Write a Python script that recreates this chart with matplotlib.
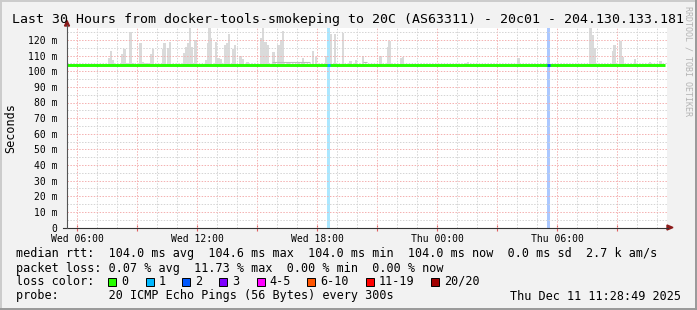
#!/usr/bin/env python3
"""SmokePing latency graph, last 30 hours (docker-tools-smokeping -> 20C)."""

import matplotlib
matplotlib.use("Agg")
import matplotlib.pyplot as plt
from matplotlib.patches import Rectangle, Polygon
from matplotlib.lines import Line2D

W, H = 697, 310
MONO = "DejaVu Sans Mono"

# --- data -------------------------------------------------------------
# x values are hours after the window start (Wed 05:30)
window_hours = 30.0
label_hours = [0.5, 6.5, 12.5, 18.5, 24.5]
tick_labels = ["Wed 06:00", "Wed 12:00", "Wed 18:00", "Thu 00:00", "Thu 06:00"]
y_ticks_ms = [0, 10, 20, 30, 40, 50, 60, 70, 80, 90, 100, 110, 120]

median_t = [0.0, 29.9]
median_ms = [104.0, 104.0]

# smoke: slowest ping per step (ms)
smoke_t = [2.125, 2.2, 2.275, 2.775, 2.875, 3.025, 3.175, 3.275, 3.675, 3.775,
           3.9, 4.0, 4.1, 4.2, 4.3, 4.8, 4.875, 5.05, 5.15, 5.85, 5.95, 6.05,
           6.15, 6.25, 6.425, 6.975, 7.05, 7.125, 7.2,
           7.45, 7.575, 7.675, 7.925, 8.025, 8.1, 8.3, 8.4, 8.675, 8.775,
           9.025, 9.7, 9.8, 9.925, 10.05, 10.325, 10.575, 10.7, 10.8, 11.075,
           11.575, 11.8, 12.3, 12.45, 12.95, 13.2, 13.4, 13.8, 14.175, 14.45,
           14.8, 15.675, 16.05, 16.125, 16.7, 16.8, 19.925, 20.05,
           22.575, 26.175, 26.275, 26.375, 27.3, 27.375, 27.675, 27.8, 28.4,
           29.15, 29.675]
smoke_top = [108.7, 113.0, 107.5, 111.0, 114.0, 105.5, 125.3, 105.5, 118.0, 106.0,
             105.5, 105.5, 105.5, 111.0, 114.0, 114.5, 118.0, 115.0, 118.5, 111.5,
             115.5, 118.0, 127.5, 115.5, 120.0, 107.0, 118.0, 127.5, 121.0,
             119.0, 108.7, 108.0, 117.0, 118.0, 124.0, 114.0, 116.5, 110.0, 108.0,
             106.0, 121.0, 127.8, 119.0, 116.5, 112.5, 116.5, 120.0, 125.7, 106.0,
             106.0, 108.3, 113.0, 109.0, 110.0, 123.6, 124.0, 124.7, 106.5, 107.0,
             110.0, 110.0, 115.5, 119.5, 108.3, 109.0, 105.0, 106.0,
             108.3, 127.5, 123.0, 115.0, 113.0, 117.0, 119.5, 109.0, 108.0,
             106.0, 106.5]

# darker smoke bands just above the median
dark_t0 = [10.25, 14.8]
dark_t1 = [12.15, 15.0]
dark_ms = [105.7, 106.0]

# packet loss events (hour, lost pings out of 20)
loss_t = [13.075, 24.075]
loss_pings = [1, 2]

loss_labels = ["0", "1", "2", "3", "4-5", "6-10", "11-19", "20/20"]
loss_colors = ["#26ff00", "#00b8ff", "#0059ff", "#7e00ff",
               "#ff00ff", "#ff5500", "#ff0000", "#a10000"]

rtt_avg, rtt_max, rtt_min, rtt_now, rtt_sd = 104.0, 104.6, 104.0, 104.0, 0.0
am_per_s = 2.7
loss_avg, loss_max, loss_min, loss_now = 0.07, 11.73, 0.00, 0.00


def fx(x):
    return x / W


def fy(y):
    return 1 - y / H


# --- figure -----------------------------------------------------------
fig = plt.figure(figsize=(W / 100, H / 100), dpi=100, facecolor="#f2f2f2")

ax = fig.add_axes([fx(67), fy(227.5), 600 / W, (227.5 - 28) / H])
ax.set_facecolor("white")
ax.set_xlim(0, window_hours)
ax.set_ylim(0, (227.5 - 28) / 1.5625)
for s in ax.spines.values():
    s.set_visible(False)

# smoke
ax.bar(smoke_t, [t - median_ms[0] for t in smoke_top], bottom=median_ms[0],
       width=0.12, color="#dadada", linewidth=0, zorder=1)
ax.hlines(dark_ms, dark_t0, dark_t1, color="#bcbcbc", lw=0.8, zorder=1)

# loss bars
for t, n in zip(loss_t, loss_pings):
    ax.axvspan(t - 0.075, t + 0.075, color=loss_colors[n], alpha=0.33,
               linewidth=0, zorder=1)

# grid: gray every hour / 5 ms, red every 3 h / 10 ms
grid_kw = dict(lw=0.7, linestyle=(0, (1.5, 1.5)), zorder=2)
for k in range(30):
    h = 0.5 + k
    ax.axvline(h, color="#f4b0b0" if k % 3 == 0 else "#d4d4d4", **grid_kw)
for v in range(5, 130, 5):
    ax.axhline(v, color="#f4b0b0" if v % 10 == 0 else "#d4d4d4", **grid_kw)

# median line, coloured by loss
ax.plot(median_t, median_ms, color=loss_colors[0], lw=2.1,
        solid_capstyle="butt", zorder=3)
for t, n in zip(loss_t, loss_pings):
    ax.plot([t - 0.075, t + 0.075], [median_ms[0]] * 2, color=loss_colors[n],
            lw=2.1, solid_capstyle="butt", zorder=4)

# ticks
ax.set_xticks([0.5 + 3 * k for k in range(10)])
ax.set_xticklabels([tick_labels[k // 2] if k % 2 == 0 else "" for k in range(10)],
                   fontsize=7, family=MONO)
ax.tick_params(axis="x", direction="inout", length=4, width=0.8,
               color="#e06060", pad=3)
ax.set_yticks(y_ticks_ms)
ax.set_yticklabels([f"{v} m" if v else "0" for v in y_ticks_ms],
                   fontsize=7, family=MONO)
ax.tick_params(axis="y", direction="in", length=0, pad=7)

# axes with arrow heads
fig.add_artist(Line2D([fx(63), fx(668)], [fy(227.5)] * 2, color="#333333", lw=0.8))
fig.add_artist(Line2D([fx(67)] * 2, [fy(227.5), fy(25)], color="#555555", lw=0.8))
fig.add_artist(Polygon([(fx(667), fy(225)), (fx(673), fy(227.5)), (fx(667), fy(230))],
                       closed=True, color="#8b1a1a", transform=fig.transFigure))
fig.add_artist(Polygon([(fx(64.5), fy(26)), (fx(67), fy(20.5)), (fx(69.5), fy(26))],
                       closed=True, color="#8b1a1a", transform=fig.transFigure))

# titles
fig.text(0.5, fy(19), "Last 30 Hours from docker-tools-smokeping to 20C (AS63311)"
         " - 20c01 - 204.130.133.181", ha="center", va="center",
         fontsize=9.5, family=MONO)
fig.text(fx(11), fy(128), "Seconds", rotation=90, ha="center", va="center",
         fontsize=8.5, family=MONO)
fig.text(fx(688), fy(61), "RRDTOOL / TOBI OETIKER", rotation=270, ha="center",
         va="center", fontsize=6, family=MONO, color="#b4b4b4")

# legend
row1 = (f"median rtt:  {rtt_avg:.1f} ms avg  {rtt_max:.1f} ms max  "
        f"{rtt_min:.1f} ms min  {rtt_now:.1f} ms now  {rtt_sd:.1f} ms sd  "
        f"{am_per_s:.1f} k am/s")
row2 = (f"packet loss: {loss_avg:.2f} % avg  {loss_max:.2f} % max  "
        f"{loss_min:.2f} % min  {loss_now:.2f} % now")
fig.text(fx(16), fy(254), row1, va="center", fontsize=8.5, family=MONO)
fig.text(fx(16), fy(268.3), row2, va="center", fontsize=8.5, family=MONO)
fig.text(fx(16), fy(281.5), "loss color:", va="center", fontsize=8.5, family=MONO)
box_x = [108.3, 145.7, 182.3, 219.3, 256.7, 307.0, 365.7, 430.7]
for bx, lab, col in zip(box_x, loss_labels, loss_colors):
    fig.add_artist(Rectangle((fx(bx), fy(285.5)), 8 / W, 8 / H, facecolor=col,
                             edgecolor="black", lw=0.7, transform=fig.transFigure))
    fig.text(fx(bx + 13), fy(281.5), lab, va="center", fontsize=8.5, family=MONO)
fig.text(fx(16), fy(296), "probe:       20 ICMP Echo Pings (56 Bytes) every 300s",
         va="center", fontsize=8.5, family=MONO)
fig.text(fx(681), fy(296), "Thu Dec 11 11:28:49 2025", ha="right", va="center",
         fontsize=8.5, family=MONO)

# rrdtool frame shading
fig.add_artist(Line2D([0, 1], [fy(1)] * 2, color="#cbcbcb", lw=1.4))
fig.add_artist(Line2D([fx(1)] * 2, [0, 1], color="#cbcbcb", lw=1.4))
fig.add_artist(Line2D([0, 1], [fy(309)] * 2, color="#999999", lw=1.4))
fig.add_artist(Line2D([fx(696)] * 2, [0, 1], color="#999999", lw=1.4))

fig.savefig("out.png", dpi=100, facecolor=fig.get_facecolor())
